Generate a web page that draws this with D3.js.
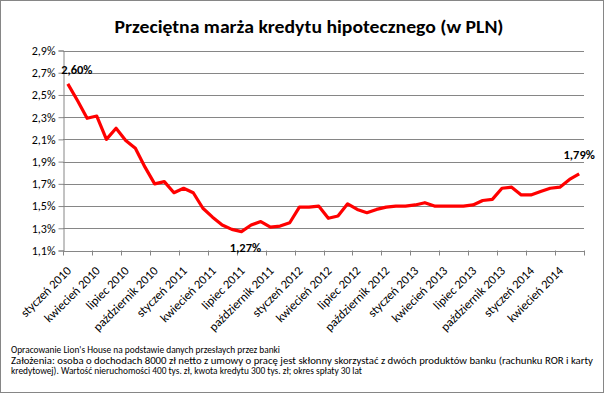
<!DOCTYPE html>
<html>
<head>
<meta charset="utf-8">
<script src="https://cdn.jsdelivr.net/npm/d3@7"></script>
<style>
  body { margin: 0; background: #fff; }
  text { font-family: Carlito, Calibri, "Open Sans", "Liberation Sans", sans-serif; fill: #000; }
</style>
</head>
<body>
<div id="chart"></div>
<script>
// Monthly average mortgage margin, Jan 2010 - Jun 2014 (in %)
var marginValues = [
  2.60, 2.45, 2.29, 2.31, 2.10, 2.20, 2.09, 2.02, 1.85, 1.70, 1.72, 1.62,
  1.66, 1.62, 1.48, 1.40, 1.33, 1.29, 1.27, 1.33, 1.36, 1.31, 1.32, 1.35,
  1.49, 1.49, 1.50, 1.39, 1.41, 1.52, 1.47, 1.44, 1.47, 1.49, 1.50, 1.50,
  1.51, 1.53, 1.50, 1.50, 1.50, 1.50, 1.51, 1.55, 1.56, 1.66, 1.67, 1.60,
  1.60, 1.63, 1.66, 1.67, 1.74, 1.79
];

// Labels shown every third month
var tickLabels = [
  "styczeń 2010", "kwiecień 2010", "lipiec 2010", "październik 2010",
  "styczeń 2011", "kwiecień 2011", "lipiec 2011", "październik 2011",
  "styczeń 2012", "kwiecień 2012", "lipiec 2012", "październik 2012",
  "styczeń 2013", "kwiecień 2013", "lipiec 2013", "październik 2013",
  "styczeń 2014", "kwiecień 2014"
];

var yTicks = [1.1, 1.3, 1.5, 1.7, 1.9, 2.1, 2.3, 2.5, 2.7, 2.9];

// index of points that carry a data label
var labelledPoints = [0, 18, 53];

var title = "Przeciętna marża kredytu hipotecznego (w PLN)";
var footerLines = [
  "Opracowanie Lion's House na podstawie danych przesłaych przez banki",
  "Założenia: osoba o dochodach 8000 zł netto z umowy o pracę jest skłonny skorzystać z dwóch produktów banku (rachunku ROR i karty",
  "kredytowej). Wartość nieruchomości 400 tys. zł, kwota kredytu 300 tys. zł; okres spłaty 30 lat"
];

var svgWidth = 604;
var svgHeight = 393;

var plot = { left: 63, right: 584, top: 50.5, bottom: 250.5 };

var svg = d3.select("#chart")
  .append("svg")
  .attr("width", svgWidth)
  .attr("height", svgHeight);

// outer border
svg.append("rect")
  .attr("x", 0.5).attr("y", 0.5)
  .attr("width", svgWidth - 1).attr("height", svgHeight - 1)
  .attr("fill", "#fff")
  .attr("stroke", "#868686");

var idx = d3.range(marginValues.length);

var xBand = d3.scaleBand()
  .domain(idx)
  .range([plot.left, plot.right])
  .padding(0);

var xScale = d => xBand(d) + xBand.bandwidth() / 2;

var yScale = d3.scaleLinear()
  .domain([1.1, 2.9])
  .range([plot.bottom, plot.top]);

var fmt = d => d.toFixed(1).replace(".", ",") + "%";

// gridlines
svg.append("g")
  .selectAll("line")
  .data(yTicks)
  .join("line")
  .attr("x1", plot.left)
  .attr("x2", plot.right)
  .attr("y1", d => Math.round(yScale(d)) + 0.5)
  .attr("y2", d => Math.round(yScale(d)) + 0.5)
  .attr("stroke", "#868686")
  .attr("stroke-width", 1);

// y axis
var leftAxis = d3.axisLeft(yScale)
  .tickValues(yTicks)
  .tickFormat(fmt)
  .tickSize(5)
  .tickPadding(3);

var yAxisG = svg.append("g")
  .attr("transform", `translate(${plot.left + 0.5}, 0)`)
  .call(leftAxis);
yAxisG.select(".domain").attr("stroke", "#868686");
yAxisG.selectAll(".tick line").attr("stroke", "#868686");
yAxisG.selectAll(".tick text")
  .style("font-size", "12px")
  .attr("fill", "#000");

// x axis: ticks every third category boundary
var tickIdx = d3.range(0, marginValues.length + 1, 3);
var tickX = i => i < marginValues.length ? xBand(i) : plot.right;

var xAxisG = svg.append("g");
xAxisG.append("line")
  .attr("x1", plot.left).attr("x2", plot.right)
  .attr("y1", Math.round(plot.bottom) + 0.5).attr("y2", Math.round(plot.bottom) + 0.5)
  .attr("stroke", "#868686");
xAxisG.selectAll("line.tick")
  .data(tickIdx)
  .join("line")
  .attr("class", "tick")
  .attr("x1", d => Math.round(tickX(d)) + 0.5)
  .attr("x2", d => Math.round(tickX(d)) + 0.5)
  .attr("y1", plot.bottom)
  .attr("y2", plot.bottom + 5)
  .attr("stroke", "#868686");

xAxisG.selectAll("text")
  .data(tickLabels)
  .join("text")
  .attr("transform", (d, i) => `translate(${xScale(i * 3) + 1}, ${plot.bottom + 18}) rotate(-45)`)
  .attr("text-anchor", "end")
  .attr("dy", "0.35em")
  .style("font-size", "12.5px")
  .text(d => d);

// line
var drawLine = d3.line()
  .x((d, i) => xScale(i))
  .y(d => yScale(d));

svg.append("path")
  .attr("d", drawLine(marginValues))
  .attr("fill", "none")
  .attr("stroke", "#FF0000")
  .attr("stroke-width", 3.2)
  .attr("stroke-linejoin", "round");

// data labels
var labelOffsets = { 0: [9, -14], 18: [4, 16], 53: [0, -19] };
svg.append("g")
  .selectAll("text")
  .data(labelledPoints)
  .join("text")
  .attr("x", i => xScale(i) + labelOffsets[i][0])
  .attr("y", i => yScale(marginValues[i]) + labelOffsets[i][1])
  .attr("text-anchor", "middle")
  .attr("dy", "0.35em")
  .style("font-size", "12.5px")
  .style("font-weight", "bold")
  .text(i => marginValues[i].toFixed(2).replace(".", ",") + "%");

// title
svg.append("text")
  .attr("x", svgWidth / 2 + 7)
  .attr("y", 33)
  .attr("text-anchor", "middle")
  .attr("textLength", 389)
  .attr("lengthAdjust", "spacingAndGlyphs")
  .style("font-size", "17.5px")
  .style("font-weight", "bold")
  .text(title);

// footer
var footerWidths = [269, 582, 351];
svg.append("g")
  .selectAll("text")
  .data(footerLines)
  .join("text")
  .attr("x", 11)
  .attr("y", (d, i) => 353 + i * 10.5)
  .attr("textLength", (d, i) => footerWidths[i])
  .attr("lengthAdjust", "spacingAndGlyphs")
  .style("font-size", "9.5px")
  .text(d => d);
</script>
</body>
</html>
